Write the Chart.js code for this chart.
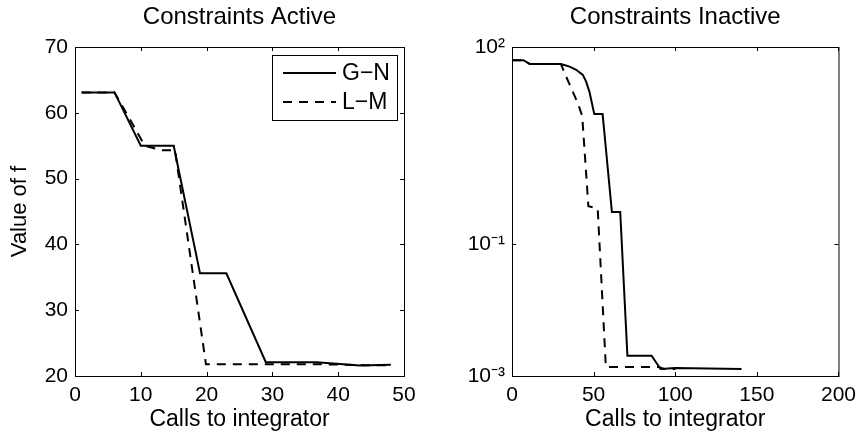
<!doctype html>
<html>
<head>
	<title>Constraints Active / Inactive</title>
	<meta charset="UTF-8">
	<script src="https://cdn.jsdelivr.net/npm/chart.js@4/dist/chart.umd.min.js"></script>
	<style>
		body { margin: 0; background: #fff; }
		canvas { position: absolute; top: 0; }
		#left { left: 0; }
		#right { left: 440px; }
	</style>
</head>
<body>
<canvas id="left" width="440" height="433"></canvas>
<canvas id="right" width="423" height="433"></canvas>
<script>
	// left panel: constraints active
	var activeGnX = [1, 6, 10, 15, 19, 23, 29, 36.7, 43.3, 48];
	var activeGnY = [63.1, 63.1, 55.0, 55.0, 35.6, 35.6, 22.1, 22.1, 21.6, 21.7];
	var activeLmX = [1, 6, 8.4, 10.6, 13.2, 15.2, 19.9, 29, 36.7, 44, 48];
	var activeLmY = [63.1, 63.1, 58.9, 55.0, 54.3, 54.3, 21.8, 21.8, 21.8, 21.65, 21.65];

	// right panel: constraints inactive (log scale)
	var inactiveGnX = [0, 7, 11, 30, 35.3, 39.3, 43.4, 45.4, 47.4, 50.4, 55.5, 61.2, 66.3, 70.7, 85.5, 91, 100, 140.6];
	var inactiveGnY = [63, 63, 55, 55, 50.4, 45, 37.7, 29.8, 21, 9.6, 9.6, 0.31, 0.31, 0.00203, 0.00203, 0.00128, 0.00132, 0.00128];
	var inactiveLmX = [0, 7, 11, 30, 33.2, 40.3, 43, 46.8, 52.5, 57.5, 90, 93, 100];
	var inactiveLmY = [63, 63, 55, 55, 35.4, 14, 9, 0.38, 0.35, 0.00137, 0.00137, 0.00128, 0.00128];

	var seriesNames = ['G\u2212N', 'L\u2212M'];
	var activeXTicks = [0, 10, 20, 30, 40, 50];
	var activeYTicks = [20, 30, 40, 50, 60, 70];
	var inactiveXTicks = [0, 50, 100, 150, 200];
	var inactiveYTicks = [1e-3, 1e-1, 1e2];
	var inactiveYLabels = ['10\u207B\u00B3', '10\u207B\u00B9', '10\u00B2'];

	var FONT = 'Liberation Sans, Arial, Helvetica, sans-serif';

	function pts(xs, ys) {
		return xs.map(function (x, i) { return {x: x, y: ys[i]}; });
	}

	function lineSets(gx, gy, lx, ly) {
		return [
			{label: seriesNames[0], data: pts(gx, gy), borderColor: '#000', borderWidth: 2, pointRadius: 0, tension: 0},
			{label: seriesNames[1], data: pts(lx, ly), borderColor: '#000', borderWidth: 2, borderDash: [9, 7], pointRadius: 0, tension: 0}
		];
	}

	function fixTicks(values) {
		return function (scale) {
			scale.ticks = values.map(function (v) { return {value: v}; });
		};
	}

	// box round the axes with the matlab style inward ticks
	var frame = {
		id: 'frame',
		afterDatasetsDraw: function (chart) {
			var ctx = chart.ctx, a = chart.chartArea, x = chart.scales.x, y = chart.scales.y;
			ctx.save();
			ctx.strokeStyle = '#000';
			ctx.lineWidth = 1;
			ctx.strokeRect(a.left + 0.5, a.top + 0.5, a.right - a.left, a.bottom - a.top);
			ctx.beginPath();
			x.ticks.forEach(function (t) {
				var p = Math.round(x.getPixelForValue(t.value)) + 0.5;
				ctx.moveTo(p, a.bottom); ctx.lineTo(p, a.bottom - 4);
				ctx.moveTo(p, a.top); ctx.lineTo(p, a.top + 4);
			});
			y.ticks.forEach(function (t) {
				var p = Math.round(y.getPixelForValue(t.value)) + 0.5;
				ctx.moveTo(a.left, p); ctx.lineTo(a.left + 4, p);
				ctx.moveTo(a.right, p); ctx.lineTo(a.right - 4, p);
			});
			ctx.stroke();
			ctx.restore();
		}
	};

	// legend box in the top right corner of the left panel
	var boxLegend = {
		id: 'boxLegend',
		afterDraw: function (chart) {
			var ctx = chart.ctx, a = chart.chartArea;
			var right = a.right - 7, top = a.top + 8, w = 125, h = 65;
			ctx.save();
			ctx.fillStyle = '#fff';
			ctx.fillRect(right - w, top, w, h);
			ctx.strokeStyle = '#000';
			ctx.lineWidth = 1;
			ctx.strokeRect(right - w + 0.5, top + 0.5, w, h);
			ctx.font = '23px ' + FONT;
			ctx.textBaseline = 'middle';
			ctx.fillStyle = '#000';
			chart.data.datasets.forEach(function (ds, i) {
				var yy = top + 18 + i * 29;
				ctx.beginPath();
				ctx.lineWidth = 2;
				ctx.setLineDash(ds.borderDash || []);
				ctx.moveTo(right - w + 11, yy);
				ctx.lineTo(right - w + 64, yy);
				ctx.stroke();
				ctx.setLineDash([]);
				ctx.fillText(ds.label, right - w + 70, yy + 1);
			});
			ctx.restore();
		}
	};

	function makeOptions(title, xTicks, yType, yTicks, yMin, yMax, yLabel, yFmt, leftW, padRight) {
		return {
			responsive: false,
			animation: false,
			layout: {padding: {left: 0, right: padRight, top: 0, bottom: 0}},
			plugins: {
				legend: {display: false},
				tooltip: {enabled: false},
				title: {
					display: true, text: title, color: '#000', fullSize: false,
					font: {family: FONT, size: 24, weight: 'normal', lineHeight: 1.2},
					padding: {top: 3, bottom: 15.2}
				}
			},
			scales: {
				x: {
					type: 'linear', min: xTicks[0], max: xTicks[xTicks.length - 1],
					afterBuildTicks: fixTicks(xTicks),
					afterFit: function (s) { s.height = 57; },
					grid: {display: false, drawTicks: false},
					border: {display: false},
					ticks: {color: '#000', padding: 7, maxRotation: 0, font: {family: FONT, size: 21}},
					title: {display: true, text: 'Calls to integrator', color: '#000', padding: {top: 0, bottom: 0},
						font: {family: FONT, size: 23, lineHeight: 1.2}}
				},
				y: {
					type: yType, min: yMin, max: yMax,
					afterBuildTicks: fixTicks(yTicks),
					afterFit: function (s) { s.width = leftW; },
					grid: {display: false, drawTicks: false},
					border: {display: false},
					ticks: {color: '#000', padding: 7, font: {family: FONT, size: 21}, callback: yFmt},
					title: {display: yLabel !== '', text: yLabel, color: '#000', padding: {top: 7, bottom: 0},
						font: {family: FONT, size: 22, lineHeight: 1.2}}
				}
			}
		};
	}

	new Chart(document.getElementById('left').getContext('2d'), {
		type: 'line',
		data: {datasets: lineSets(activeGnX, activeGnY, activeLmX, activeLmY)},
		options: makeOptions('Constraints Active', activeXTicks, 'linear', activeYTicks, 20, 70, 'Value of f',
			function (v) { return v; }, 75, 36),
		plugins: [frame, boxLegend]
	});

	new Chart(document.getElementById('right').getContext('2d'), {
		type: 'line',
		data: {datasets: lineSets(inactiveGnX, inactiveGnY, inactiveLmX, inactiveLmY)},
		options: makeOptions('Constraints Inactive', inactiveXTicks, 'logarithmic', inactiveYTicks, 1e-3, 1e2, '',
			function (v) { var i = inactiveYTicks.indexOf(v); return i < 0 ? '' : inactiveYLabels[i]; }, 72, 22),
		plugins: [frame]
	});
</script>
</body>
</html>
